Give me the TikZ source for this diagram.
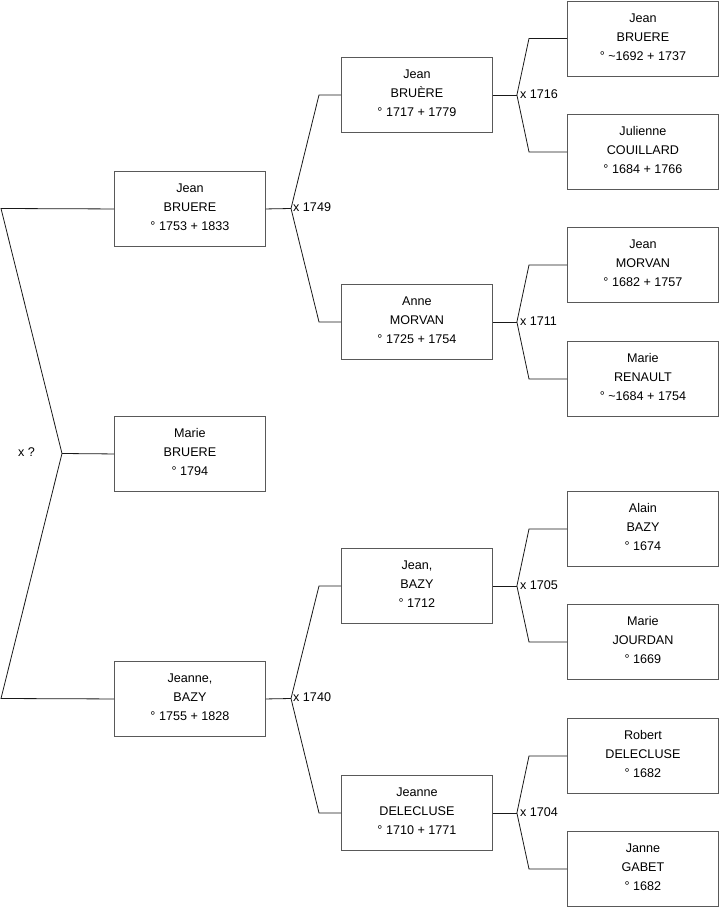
\documentclass[tikz,border=0pt]{standalone}
\usepackage{fontspec}
\setmainfont{Liberation Sans}
\usetikzlibrary{calc}
\newcommand{\ppl}[3]{\raisebox{0.9pt}[\height][\depth]{\begin{tabular}{@{}c@{}}#1\\#2\\#3\end{tabular}}}
\begin{document}
\begin{tikzpicture}[x=1pt,y=-1pt,
  person/.style={draw=black!65, line width=0.9pt, minimum width=151pt, minimum height=75pt, inner sep=0pt, align=center, font=\fontsize{12.6}{19}\selectfont, anchor=north west},
  link/.style={draw=black!90, line width=0.8pt},
  lbl/.style={font=\fontsize{12.6}{14}\selectfont, anchor=west, inner sep=0pt}]
\useasboundingbox (0,0) rectangle (719,908);
% generation 1
\node[person] (g1a) at (114,171) {\ppl{Jean}{BRUERE}{° 1753 + 1833}};
\node[person] (g1b) at (114,416) {\ppl{Marie}{BRUERE}{° 1794}};
\node[person] (g1c) at (114,661) {\ppl{Jeanne,}{BAZY}{° 1755 + 1828}};
% generation 2
\node[person] (g2a) at (341,57) {\ppl{Jean}{BRUÈRE}{° 1717 + 1779}};
\node[person] (g2b) at (341,284) {\ppl{Anne}{MORVAN}{° 1725 + 1754}};
\node[person] (g2c) at (341,548) {\ppl{Jean,}{BAZY}{° 1712}};
\node[person] (g2d) at (341,775) {\ppl{Jeanne}{DELECLUSE}{° 1710 + 1771}};
% generation 3
\node[person] (g3a) at (567,0.5) {\ppl{Jean}{BRUERE}{° \textasciitilde1692 + 1737}};
\node[person] (g3b) at (567,114) {\ppl{Julienne}{COUILLARD}{° 1684 + 1766}};
\node[person] (g3c) at (567,227) {\ppl{Jean}{MORVAN}{° 1682 + 1757}};
\node[person] (g3d) at (567,341) {\ppl{Marie}{RENAULT}{° \textasciitilde1684 + 1754}};
\node[person] (g3e) at (567,491) {\ppl{Alain}{BAZY}{° 1674}};
\node[person] (g3f) at (567,604) {\ppl{Marie}{JOURDAN}{° 1669}};
\node[person] (g3g) at (567,718) {\ppl{Robert}{DELECLUSE}{° 1682}};
\node[person] (g3h) at (567,831) {\ppl{Janne}{GABET}{° 1682}};

% left bracket
\coordinate (la) at (1,208.5);
\coordinate (lv) at (62,453.5);
\coordinate (lc) at (1,698.5);
\draw[link] (g1a.west) -- (la) -- (lv) -- (lc) -- (g1c.west);
\draw[link] (lv) -- (g1b.west);
\node[lbl] (xq) at (18,452) {x ?};

% gen1 -> gen2
\coordinate (ja) at (291,208.5);
\draw[link] (g1a.east) -- (ja);
\draw[link] (g2a.west) -- ++(-22,0) -- (ja) -- ($(g2b.west)+(-22,0)$) -- (g2b.west);
\node[lbl] (m1749) at (293,207.5) {x 1749};

\coordinate (jc) at (291,698.5);
\draw[link] (g1c.east) -- (jc);
\draw[link] (g2c.west) -- ++(-22,0) -- (jc) -- ($(g2d.west)+(-22,0)$) -- (g2d.west);
\node[lbl] (m1740) at (293,697.5) {x 1740};

% gen2 -> gen3
\foreach \p/\f/\m/\yr in {g2a/g3a/g3b/1716, g2b/g3c/g3d/1711, g2c/g3e/g3f/1705, g2d/g3g/g3h/1704}{
  \draw[link] (\p.east) -- ++(24,0) coordinate (j\p);
  \draw[link] (\f.west) -- ++(-38,0) -- (j\p) -- ($(\m.west)+(-38,0)$) -- (\m.west);
  \node[lbl] (m\yr) at ($(j\p)+(3,-1)$) {x \yr};
}
\end{tikzpicture}
\end{document}
